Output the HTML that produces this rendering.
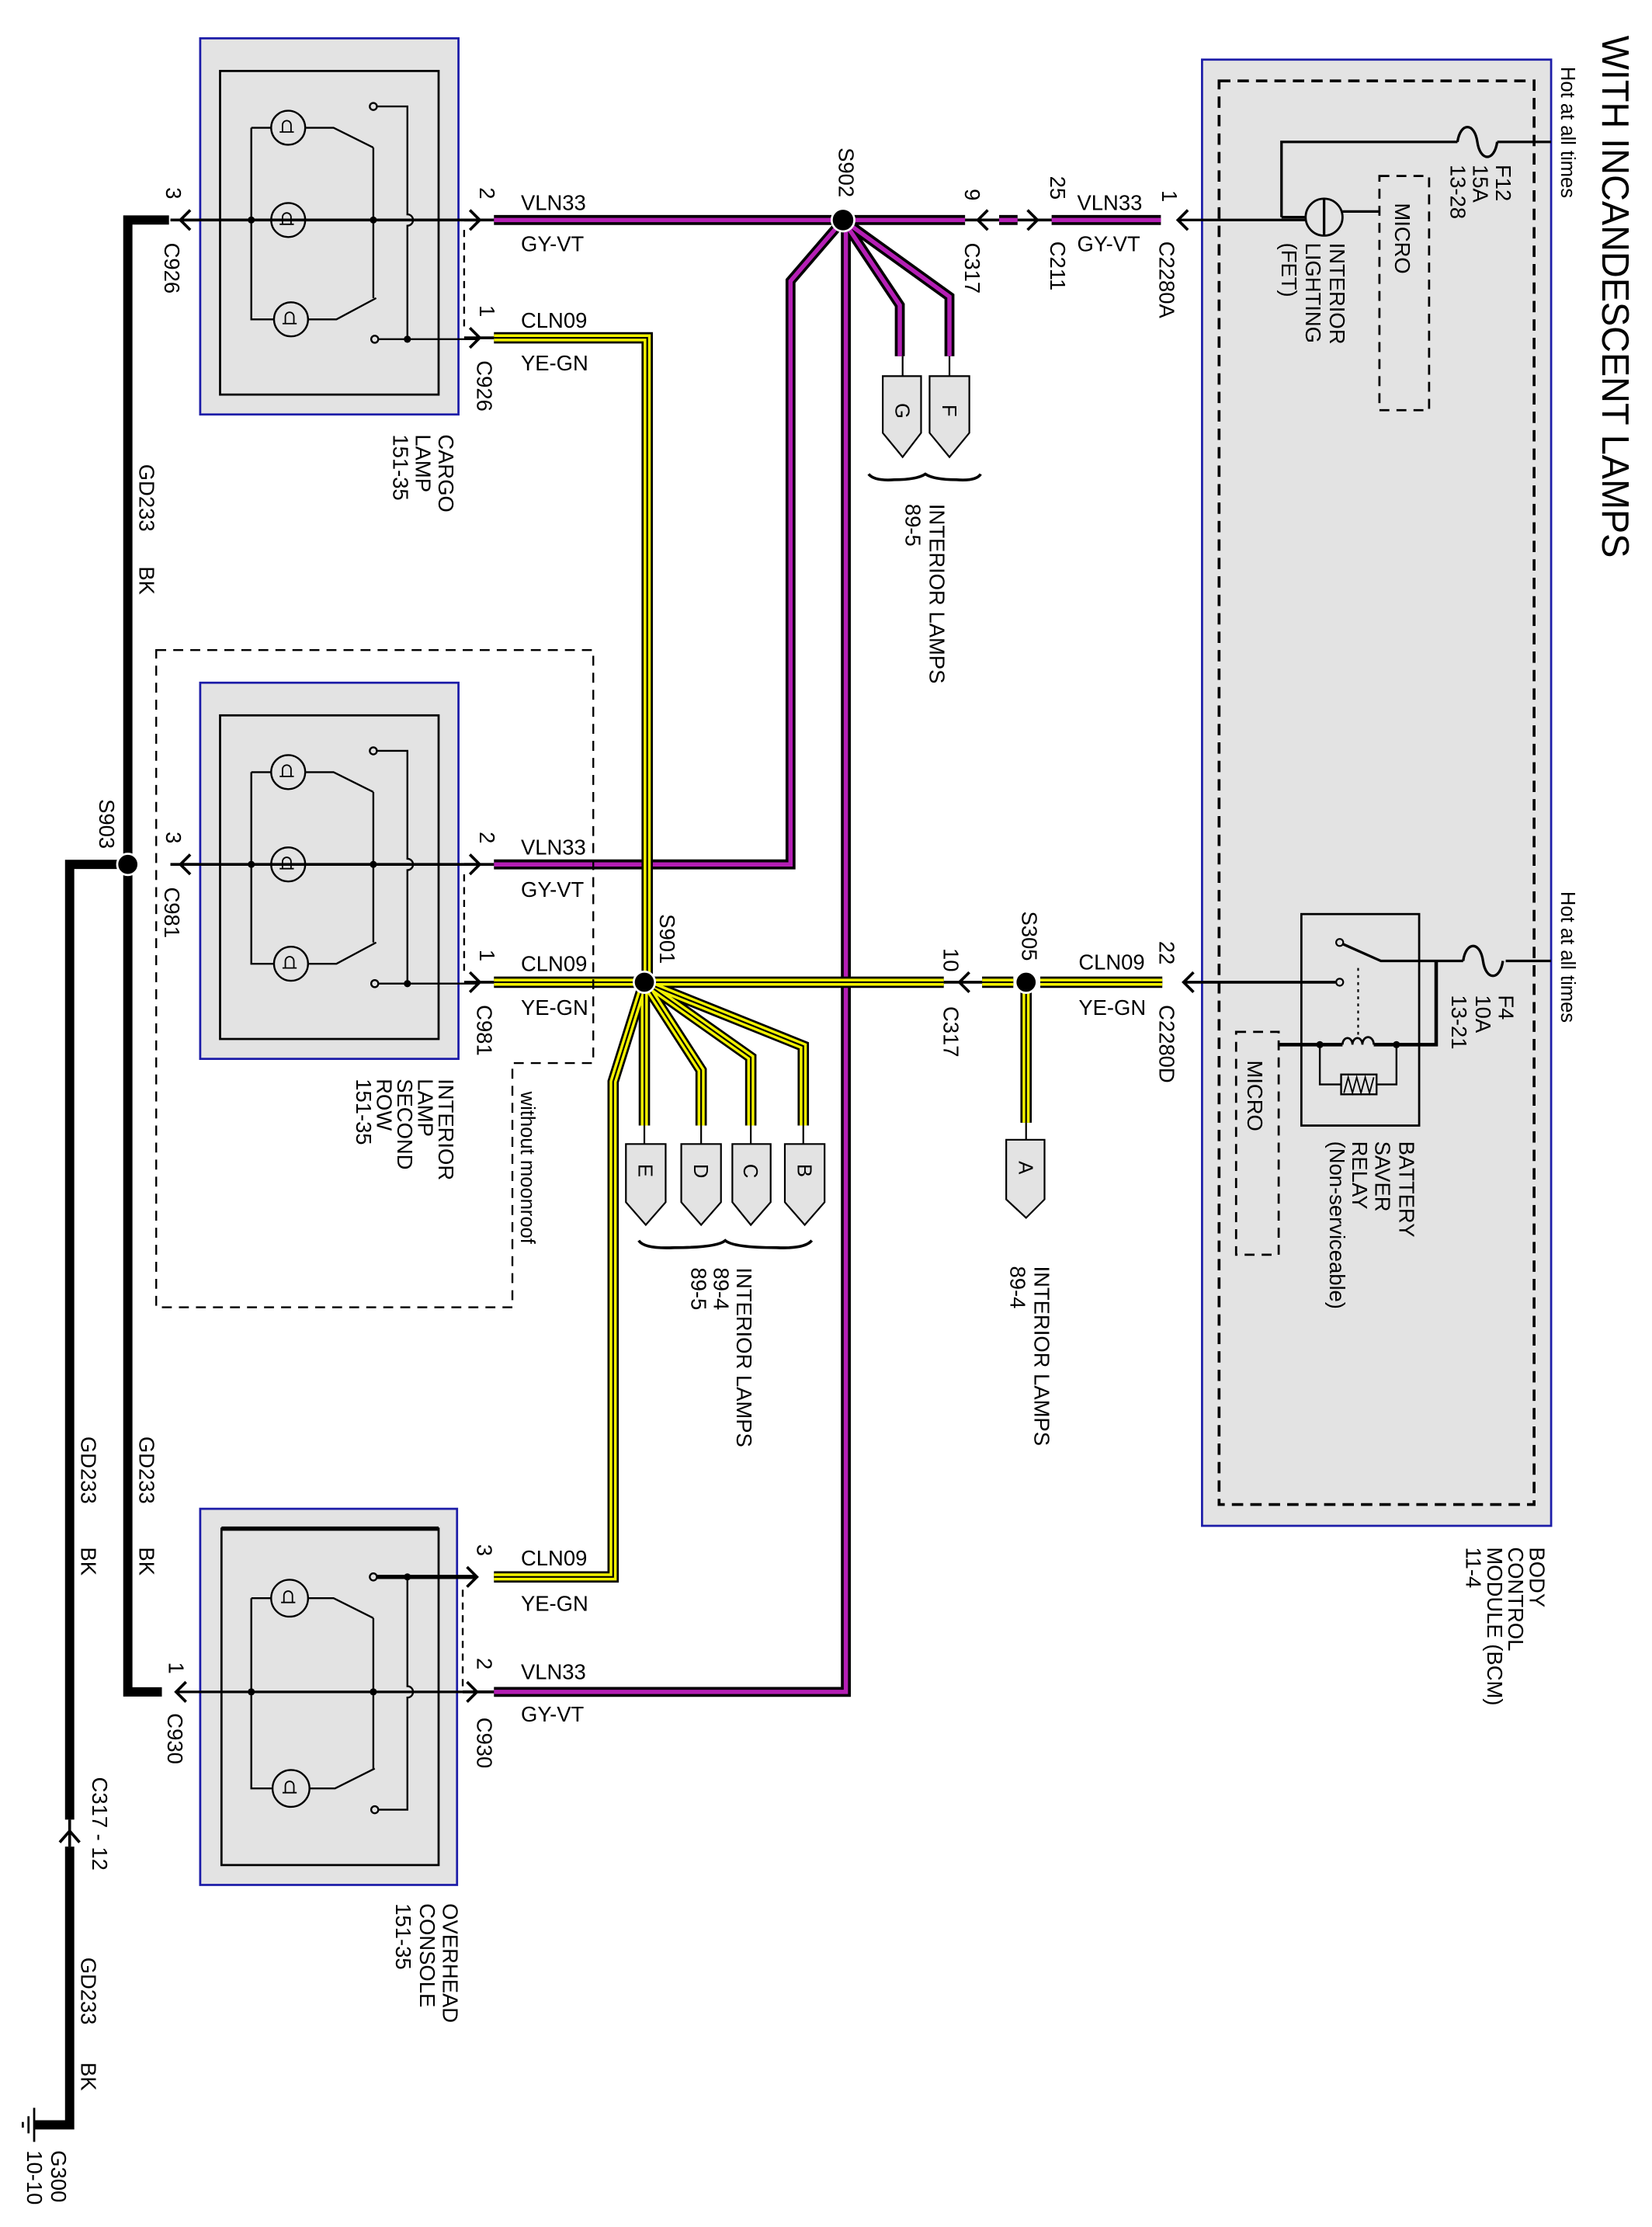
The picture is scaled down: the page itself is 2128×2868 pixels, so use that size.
<!DOCTYPE html>
<html><head><meta charset="utf-8"><style>
html,body{margin:0;padding:0;background:#fff}
svg{display:block}
text{font-family:"Liberation Sans",Arial,sans-serif;fill:#000}
</style></head><body>
<svg width="2128" height="2868" viewBox="0 0 1164 1569" xmlns="http://www.w3.org/2000/svg">
<defs>
<g id="lampglyph"><path d="M-5,3 v-5 a3,3 0 0 1 6,0 v5 M-7,3 h10" fill="none" stroke="#000" stroke-width="1"/></g>
</defs>

<!-- BCM -->
<rect x="847" y="42" width="246" height="1033" fill="#e3e3e3" stroke="#1c1ca8" stroke-width="1.5"/>
<rect x="859" y="57" width="222" height="1003" fill="none" stroke="#000" stroke-width="2" stroke-dasharray="8,5"/>
<rect x="972" y="124" width="35" height="165" fill="none" stroke="#000" stroke-width="1.5" stroke-dasharray="7,5"/>
<rect x="871" y="727" width="30" height="157" fill="none" stroke="#000" stroke-width="1.5" stroke-dasharray="7,5"/>
<g fill="none" stroke="#000" stroke-width="1.8">
<path d="M903,153 V100 H1027 M1055,100 H1093"/>
<path d="M1027,100 c2,-14 12,-14 14,0 c2,14 12,14 14,0"/>
<path d="M903,153 H920 M830,155 H920"/>
<circle cx="933" cy="153" r="13" stroke-width="1.5"/>
<path d="M933,140 V166 M946,149 H972"/>
<rect x="917" y="644" width="83" height="149" stroke-width="1.5"/>
<path d="M1093,677 H1061 M1031,677 H973 L946,665"/>
<path d="M1031,677 c2,-14 12,-14 14,0 c2,14 12,14 14,0"/>
<circle cx="944" cy="664" r="2.5" stroke-width="1.2"/>
<circle cx="944" cy="692" r="2.5" stroke-width="1.2"/>
<path d="M834,692 H941" stroke-width="2"/>
<path d="M957,682 V730" stroke-dasharray="2,3" stroke-width="1.2"/>
<path d="M901,736 H946 M968,736 H1012 V677" stroke-width="2.5"/>
<path d="M946,736 a3,4 0 0 1 7,0 a3,4 0 0 1 7,0 a3,4 0 0 1 8,0" stroke-width="1.5"/>
<path d="M930,736 V764 H945 M970,764 H984 V736" stroke-width="1.3"/>
<rect x="945" y="757" width="25" height="14" stroke-width="1.3"/>
<path d="M947,770 l3,-11 l3,11 l3,-11 l3,11 l3,-11 l3,11 l3,-11" stroke-width="1"/>
</g>
<circle cx="930" cy="736" r="2.5"/><circle cx="984" cy="736" r="2.5"/>

<!-- lamp assemblies: cargo (0) and second row (+454) -->
<g id="lampA">
<rect x="141" y="27" width="182" height="265" fill="#e3e3e3" stroke="#1c1ca8" stroke-width="1.5"/>
<rect x="155" y="50" width="154" height="228" fill="none" stroke="#000" stroke-width="1.5"/>
<g fill="none" stroke="#000" stroke-width="1.3">
<circle cx="203" cy="90" r="12"/><circle cx="203" cy="155" r="12"/><circle cx="205" cy="225" r="12"/>
<path d="M177,90 H191 M177,90 V225 H193 M215,90 H235 L263,104 M263,104 V210 M217,225 H237 L265,210"/>
<circle cx="263" cy="75" r="2.5"/><circle cx="264" cy="239" r="2.5"/>
<path d="M265.5,75 H287 V151 a4,4 0 0 1 0,8 V239 M266.5,239 H338"/>
<path d="M120,155 H338" stroke-width="2"/>
<path d="M327,162 V234" stroke-dasharray="5,4"/>
</g>
<use href="#lampglyph" x="204" y="90"/><use href="#lampglyph" x="204" y="155"/><use href="#lampglyph" x="206" y="225"/>
<circle cx="177" cy="155" r="2.5"/><circle cx="263" cy="155" r="2.5"/><circle cx="287" cy="239" r="2.5"/>
</g>
<use href="#lampA" y="454"/>

<!-- overhead console -->
<rect x="141" y="1063" width="181" height="265" fill="#e3e3e3" stroke="#1c1ca8" stroke-width="1.5"/>
<rect x="156" y="1077" width="153" height="237" fill="none" stroke="#000" stroke-width="1.5"/>
<path d="M156,1077 H309" stroke="#000" stroke-width="3"/>
<g fill="none" stroke="#000" stroke-width="1.3">
<circle cx="204" cy="1126" r="13"/><circle cx="205" cy="1260" r="13"/>
<path d="M177,1126 H191 M177,1126 V1260 H192 M217,1126 H235 L263,1140 M263,1140 V1246 M218,1260 H236 L264,1246"/>
<circle cx="263" cy="1111" r="2.5"/><circle cx="264" cy="1275" r="2.5"/>
<path d="M265.5,1111 H335" stroke-width="3"/>
<path d="M287,1111 V1188 a4,4 0 0 1 0,8 V1275 H266.5"/>
<path d="M125,1192 H335" stroke-width="1.8"/>
<path d="M326,1120 V1188" stroke-dasharray="5,4"/>
</g>
<use href="#lampglyph" x="205" y="1126"/><use href="#lampglyph" x="206" y="1260"/>
<circle cx="177" cy="1192" r="2.5"/><circle cx="263" cy="1192" r="2.5"/><circle cx="287" cy="1111" r="2.5"/>

<!-- ground wires -->
<g fill="none" stroke="#000" stroke-width="6.5">
<path d="M119,155 H90 V1192 H114"/>
<path d="M90,609 H49 V1282 M49,1301 V1497 H24"/>
</g>
<path d="M24,1485 V1509 M20,1491 V1503 M16,1495 V1499" stroke="#000" stroke-width="1.5"/>
<circle cx="90" cy="609" r="7.5" fill="#000" stroke="#fff" stroke-width="1.5"/>

<!-- purple wires -->
<g fill="none" stroke-linejoin="miter">
<g stroke="#000" stroke-width="7">
<path d="M348,155 H680 M704,155 H717 M741,155 H818"/>
<path d="M348,609 H557 V198 L594,155"/>
<path d="M348,1192 H596 V155"/>
<path d="M594,155 L669,209 V251 M594,155 L634,215 V251"/>
</g>
<g stroke="#b51fb5" stroke-width="3">
<path d="M348,155 H680 M704,155 H717 M741,155 H818"/>
<path d="M348,609 H557 V198 L594,155"/>
<path d="M348,1192 H596 V155"/>
<path d="M594,155 L669,209 V251 M594,155 L634,215 V251"/>
</g>
</g>

<!-- yellow wires -->
<g fill="none">
<g stroke="#000" stroke-width="8">
<path d="M348,238 H456 V692"/>
<path d="M348,692 H665 M692,692 H714 M733,692 H819 M723,692 V791"/>
<path d="M454,692 V793 M454,692 L494,754 V793 M454,692 L529,745 V793 M454,692 L566,737 V793"/>
<path d="M348,1111 H432 V762 L454,692"/>
</g>
<g stroke="#f2f200" stroke-width="5">
<path d="M348,238 H456 V692"/>
<path d="M348,692 H665 M692,692 H714 M733,692 H819 M723,692 V791"/>
<path d="M454,692 V793 M454,692 L494,754 V793 M454,692 L529,745 V793 M454,692 L566,737 V793"/>
<path d="M348,1111 H432 V762 L454,692"/>
</g>
<g stroke="#000" stroke-width="1.2">
<path d="M348,238 H456 V692"/>
<path d="M348,692 H665 M692,692 H714 M733,692 H819 M723,692 V791"/>
<path d="M454,692 V793 M454,692 L494,754 V793 M454,692 L529,745 V793 M454,692 L566,737 V793"/>
<path d="M348,1111 H432 V762 L454,692"/>
</g>
</g>

<!-- splices -->
<circle cx="594" cy="155" r="8" fill="#000" stroke="#fff" stroke-width="1.5"/>
<circle cx="454" cy="692" r="7.5" fill="#000" stroke="#fff" stroke-width="1.5"/>
<circle cx="723" cy="692" r="7.5" fill="#000" stroke="#fff" stroke-width="1.5"/>

<!-- connector chevrons -->
<g fill="none" stroke="#000" stroke-width="2">
<path d="M134,148 L127,155 L134,162 M127,155 H140"/>
<path d="M134,602 L127,609 L134,616 M127,609 H140"/>
<path d="M131,1185 L124,1192 L131,1199"/>
<path d="M331,148 L338,155 L331,162 M327,155 H348"/>
<path d="M331,231 L338,238 L331,245 M327,238 H348"/>
<path d="M331,602 L338,609 L331,616 M327,609 H348"/>
<path d="M331,685 L338,692 L331,699 M327,692 H348"/>
<path d="M329,1104 L336,1111 L329,1118"/>
<path d="M329,1185 L336,1192 L329,1199 M326,1192 H348"/>
<path d="M696,148 L689,155 L696,162 M680,155 H704"/>
<path d="M724,148 L731,155 L724,162 M717,155 H741"/>
<path d="M837,148 L830,155 L837,162"/>
<path d="M683,685 L676,692 L683,699 M665,692 H692"/>
<path d="M841,685 L834,692 L841,699"/>
<path d="M42,1298 L49,1290 L56,1298 M49,1282 V1301"/>
</g>

<!-- pentagons -->
<g fill="#e3e3e3" stroke="#000" stroke-width="1.2">
<path d="M622,265 H649 V305 L636,322 L622,305 Z"/>
<path d="M655,265 H683 V305 L669,322 L655,305 Z"/>
<path d="M441,806 H469 V847 L455,863 L441,847 Z"/>
<path d="M480,806 H508 V847 L494,863 L480,847 Z"/>
<path d="M516,806 H543 V847 L529,863 L516,847 Z"/>
<path d="M553,806 H581 V847 L567,863 L553,847 Z"/>
<path d="M709,803 H736 V845 L723,858 L709,845 Z"/>
</g>
<g stroke="#000" stroke-width="1.2">
<path d="M636,251 V265 M669,251 V265 M454,793 V806 M494,793 V806 M529,793 V806 M566,793 V806 M723,791 V803"/>
</g>
<!-- braces -->
<g fill="none" stroke="#000" stroke-width="2">
<path d="M612,334 q4,5 18,4 q16,0 22,-4 q6,4 22,4 q14,1 17,-4"/>
<path d="M450,874 q4,6 25,5 q30,0 36,-5 q6,5 36,5 q20,1 25,-5"/>
</g>

<!-- dashed box without moonroof -->
<path d="M110,458 H418 V749 H361 V921 H110 Z" fill="none" stroke="#000" stroke-width="1.3" stroke-dasharray="7,5"/>

<!-- horizontal labels -->
<g font-size="15">
<text x="367" y="148">VLN33</text><text x="367" y="177">GY-VT</text>
<text x="367" y="231">CLN09</text><text x="367" y="261">YE-GN</text>
<text x="367" y="602">VLN33</text><text x="367" y="632">GY-VT</text>
<text x="367" y="684">CLN09</text><text x="367" y="715">YE-GN</text>
<text x="367" y="1103">CLN09</text><text x="367" y="1135">YE-GN</text>
<text x="367" y="1183">VLN33</text><text x="367" y="1213">GY-VT</text>
<text x="759" y="148">VLN33</text><text x="759" y="177">GY-VT</text>
<text x="760" y="683">CLN09</text><text x="760" y="715">YE-GN</text>
</g>

<!-- rotated labels -->
<g font-size="15">
<text transform="translate(1129,25) rotate(90)" font-size="27" textLength="368" lengthAdjust="spacingAndGlyphs">WITH INCANDESCENT LAMPS</text>
<text transform="translate(117,132) rotate(90)">3</text>
<text transform="translate(116,171) rotate(90)">C926</text>
<text transform="translate(338,132) rotate(90)">2</text>
<text transform="translate(338,215) rotate(90)">1</text>
<text transform="translate(336,254) rotate(90)">C926</text>
<text transform="translate(309,306) rotate(90)">CARGO</text>
<text transform="translate(293,306) rotate(90)">LAMP</text>
<text transform="translate(277,306) rotate(90)">151-35</text>
<text transform="translate(98,327) rotate(90)">GD233</text>
<text transform="translate(98,399) rotate(90)">BK</text>
<text transform="translate(591,104) rotate(90)">S902</text>
<text transform="translate(680,133) rotate(90)">9</text>
<text transform="translate(680,171) rotate(90)">C317</text>
<text transform="translate(740,124) rotate(90)">25</text>
<text transform="translate(740,170) rotate(90)">C211</text>
<text transform="translate(819,134) rotate(90)">1</text>
<text transform="translate(817,170) rotate(90)">C2280A</text>
<text transform="translate(937,171) rotate(90)">INTERIOR</text>
<text transform="translate(920,171) rotate(90)">LIGHTING</text>
<text transform="translate(903,171) rotate(90)">(FET)</text>
<text transform="translate(983,143) rotate(90)">MICRO</text>
<text transform="translate(1054,116) rotate(90)">F12</text>
<text transform="translate(1038,116) rotate(90)">15A</text>
<text transform="translate(1022,116) rotate(90)">13-28</text>
<text transform="translate(1100,47) rotate(90)" font-size="14">Hot at all times</text>
<text transform="translate(631,284) rotate(90)" font-size="14">G</text>
<text transform="translate(664,285) rotate(90)" font-size="14">F</text>
<text transform="translate(655,355) rotate(90)">INTERIOR LAMPS</text>
<text transform="translate(638,355) rotate(90)">89-5</text>

<text transform="translate(117,586) rotate(90)">3</text>
<text transform="translate(116,625) rotate(90)">C981</text>
<text transform="translate(338,586) rotate(90)">2</text>
<text transform="translate(338,669) rotate(90)">1</text>
<text transform="translate(336,708) rotate(90)">C981</text>
<text transform="translate(70,563) rotate(90)">S903</text>
<text transform="translate(309,760) rotate(90)">INTERIOR</text>
<text transform="translate(294.5,760) rotate(90)">LAMP</text>
<text transform="translate(280,760) rotate(90)">SECOND</text>
<text transform="translate(265.5,760) rotate(90)">ROW</text>
<text transform="translate(251,760) rotate(90)">151-35</text>
<text transform="translate(367,769) rotate(90)" font-size="14">without moonroof</text>
<text transform="translate(465,644) rotate(90)">S901</text>
<text transform="translate(665,668) rotate(90)">10</text>
<text transform="translate(665,709) rotate(90)">C317</text>
<text transform="translate(720,642) rotate(90)">S305</text>
<text transform="translate(817,663) rotate(90)">22</text>
<text transform="translate(817,708) rotate(90)">C2280D</text>
<text transform="translate(450,820) rotate(90)" font-size="14">E</text>
<text transform="translate(489,820) rotate(90)" font-size="14">D</text>
<text transform="translate(524,820) rotate(90)" font-size="14">C</text>
<text transform="translate(562,820) rotate(90)" font-size="14">B</text>
<text transform="translate(718,818) rotate(90)" font-size="14">A</text>
<text transform="translate(519,893) rotate(90)">INTERIOR LAMPS</text>
<text transform="translate(503,893) rotate(90)">89-4</text>
<text transform="translate(487,893) rotate(90)">89-5</text>
<text transform="translate(729,892) rotate(90)">INTERIOR LAMPS</text>
<text transform="translate(712,892) rotate(90)">89-4</text>
<text transform="translate(986,804) rotate(90)">BATTERY</text>
<text transform="translate(969,804) rotate(90)">SAVER</text>
<text transform="translate(953,804) rotate(90)">RELAY</text>
<text transform="translate(937,804) rotate(90)">(Non-serviceable)</text>
<text transform="translate(879,747) rotate(90)">MICRO</text>
<text transform="translate(1056,701) rotate(90)">F4</text>
<text transform="translate(1040,701) rotate(90)">10A</text>
<text transform="translate(1023,701) rotate(90)">13-21</text>
<text transform="translate(1100,628) rotate(90)" font-size="14">Hot at all times</text>
<text transform="translate(1078,1090) rotate(90)">BODY</text>
<text transform="translate(1063,1090) rotate(90)">CONTROL</text>
<text transform="translate(1048,1090) rotate(90)">MODULE (BCM)</text>
<text transform="translate(1033,1090) rotate(90)">11-4</text>

<text transform="translate(98,1012) rotate(90)">GD233</text>
<text transform="translate(98,1090) rotate(90)">BK</text>
<text transform="translate(57,1012) rotate(90)">GD233</text>
<text transform="translate(57,1090) rotate(90)">BK</text>
<text transform="translate(336,1088) rotate(90)">3</text>
<text transform="translate(336,1168) rotate(90)">2</text>
<text transform="translate(336,1210) rotate(90)">C930</text>
<text transform="translate(119,1171) rotate(90)">1</text>
<text transform="translate(118,1207) rotate(90)">C930</text>
<text transform="translate(312,1341) rotate(90)">OVERHEAD</text>
<text transform="translate(296,1341) rotate(90)">CONSOLE</text>
<text transform="translate(279,1341) rotate(90)">151-35</text>
<text transform="translate(65,1252) rotate(90)">C317 - 12</text>
<text transform="translate(57,1379) rotate(90)">GD233</text>
<text transform="translate(57,1453) rotate(90)">BK</text>
<text transform="translate(36,1515) rotate(90)">G300</text>
<text transform="translate(19,1515) rotate(90)">10-10</text>
</g>
</svg>
</body></html>
